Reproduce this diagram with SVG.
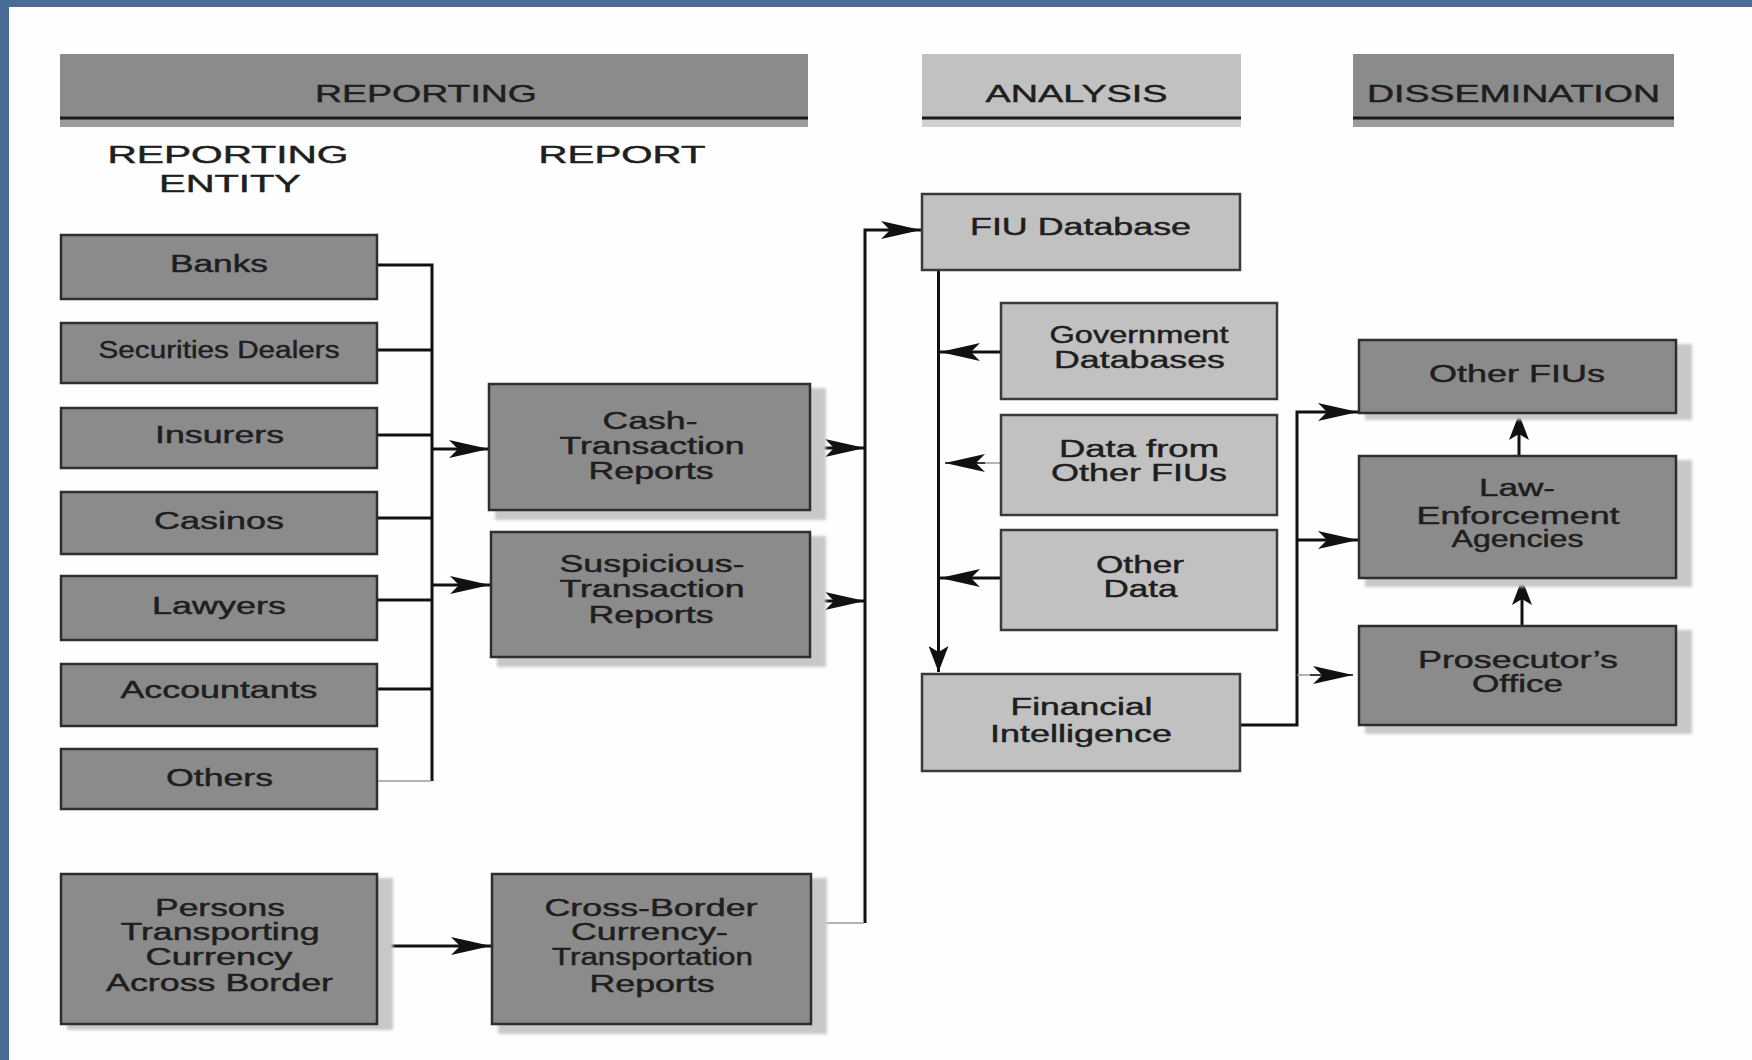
<svg xmlns="http://www.w3.org/2000/svg" width="1752" height="1060" viewBox="0 0 1752 1060">
<style>
  text { font-family: "Liberation Sans", Arial, sans-serif; fill: #1e1e1e; stroke: #1e1e1e; stroke-width: 0.45; text-anchor: middle; }
  .hdr { font-size: 24px; }
  .sub { font-size: 23.5px; }
  .lbl { font-size: 23.5px; }
  .dark { fill: #8b8b8b; stroke: #2e2e2e; stroke-width: 2.5; }
  .light { fill: #c1c1c1; stroke: #3a3a3a; stroke-width: 2.5; }
  .shadow { fill: #c8c8c8; filter: url(#blur); }
  .ln { fill: none; stroke: #111; stroke-width: 3; }
  .thin { fill: none; stroke: #9a9a9a; stroke-width: 1.5; }
  .arr { marker-end: url(#ah); }
  .arrv { marker-end: url(#av); }
</style>
<defs>
  <filter id="blur" x="-10%" y="-10%" width="120%" height="120%"><feGaussianBlur stdDeviation="1.5"/></filter>
  <marker id="ah" markerUnits="userSpaceOnUse" markerWidth="40" markerHeight="18" refX="40" refY="9" orient="auto" viewBox="0 0 40 18">
    <path d="M0,0 L40,9 L0,18 L9,9 Z" fill="#111"/>
  </marker>
  <marker id="av" markerUnits="userSpaceOnUse" markerWidth="26" markerHeight="20" refX="26" refY="10" orient="auto" viewBox="0 0 26 20">
    <path d="M0,0 L26,10 L0,20 L6,10 Z" fill="#111"/>
  </marker>
</defs>

<rect x="0" y="0" width="1752" height="1060" fill="#4a6d98"/>
<rect x="9" y="7" width="1743" height="1053" fill="#fefefe"/>

<g id="header-reporting">
  <rect x="60" y="54" width="748" height="73" fill="#8b8b8b"/>
  <rect x="60" y="119.5" width="748" height="7.5" fill="#9c9c9c"/>
  <rect x="60" y="116.5" width="748" height="3" fill="#1a1a1a"/>
  <text class="hdr" x="426" y="102" textLength="222" lengthAdjust="spacingAndGlyphs">REPORTING</text>
</g>
<g id="header-analysis">
  <rect x="922" y="54" width="319" height="73" fill="#c1c1c1"/>
  <rect x="922" y="119.5" width="319" height="7.5" fill="#d0d0d0"/>
  <rect x="922" y="116.5" width="319" height="3" fill="#1a1a1a"/>
  <text class="hdr" x="1076.5" y="102" textLength="182" lengthAdjust="spacingAndGlyphs">ANALYSIS</text>
</g>
<g id="header-dissemination">
  <rect x="1353" y="54" width="321" height="73" fill="#8b8b8b"/>
  <rect x="1353" y="119.5" width="321" height="7.5" fill="#9c9c9c"/>
  <rect x="1353" y="116.5" width="321" height="3" fill="#1a1a1a"/>
  <text class="hdr" x="1513.5" y="102" textLength="293" lengthAdjust="spacingAndGlyphs">DISSEMINATION</text>
</g>
<g id="sub-reporting-entity">
  <text class="sub" x="228" y="162.5" textLength="241" lengthAdjust="spacingAndGlyphs">REPORTING</text>
  <text class="sub" x="230" y="191.5" textLength="142" lengthAdjust="spacingAndGlyphs">ENTITY</text>
</g>
<g id="sub-report">
  <text class="sub" x="622" y="162.5" textLength="167" lengthAdjust="spacingAndGlyphs">REPORT</text>
</g>

<g id="connectors">
  <path class="ln" d="M377,265 H432 V781"/>
  <path class="ln" d="M377,350 H432 M377,435 H432 M377,518 H432 M377,600 H432 M377,689 H432"/>
  <path class="thin" d="M377,781 H431"/>
  <path class="ln arr" d="M432,449 H489"/>
  <path class="ln arr" d="M432,585 H490"/>
  <path class="ln arr" d="M810,448 H865"/>
  <path class="ln arr" d="M810,601 H865"/>
  <path class="ln arr" d="M865,923 V230 H921"/>
  <path class="thin" d="M811,923 H864"/>
  <path class="ln arr" d="M377,946 H491"/>
  <path class="ln arrv" d="M938.5,270 V672"/>
  <path class="ln arr" d="M1001,352 H940"/>
  <path class="thin" d="M1001,463 H970"/>
  <path class="ln arr" d="M985,463 H945" style="stroke-width:1.5"/>
  <path class="ln arr" d="M1001,578 H940"/>
  <path class="ln arr" d="M1240,725 H1297 V412 H1358"/>
  <path class="ln arr" d="M1297,540 H1358"/>
  <path class="thin" d="M1297,675 H1320"/>
  <path class="ln arr" d="M1310,675 H1353" style="stroke-width:1.5"/>
  <path class="ln arrv" d="M1519,456 V414"/>
  <path class="ln arrv" d="M1522,626 V579"/>
</g>

<g id="banks"><rect class="dark" x="61" y="235" width="316" height="64"/><text class="lbl" x="219" y="272" textLength="98" lengthAdjust="spacingAndGlyphs">Banks</text></g>
<g id="securities-dealers"><rect class="dark" x="61" y="323" width="316" height="60"/><text class="lbl" x="219" y="358" textLength="241" lengthAdjust="spacingAndGlyphs">Securities Dealers</text></g>
<g id="insurers"><rect class="dark" x="61" y="408" width="316" height="60"/><text class="lbl" x="219.5" y="443" textLength="129" lengthAdjust="spacingAndGlyphs">Insurers</text></g>
<g id="casinos"><rect class="dark" x="61" y="492" width="316" height="62"/><text class="lbl" x="219" y="528.5" textLength="130" lengthAdjust="spacingAndGlyphs">Casinos</text></g>
<g id="lawyers"><rect class="dark" x="61" y="576" width="316" height="64"/><text class="lbl" x="219" y="613.5" textLength="134" lengthAdjust="spacingAndGlyphs">Lawyers</text></g>
<g id="accountants"><rect class="dark" x="61" y="664" width="316" height="62"/><text class="lbl" x="219" y="697.5" textLength="197" lengthAdjust="spacingAndGlyphs">Accountants</text></g>
<g id="others"><rect class="dark" x="61" y="749" width="316" height="60"/><text class="lbl" x="219.5" y="786" textLength="107" lengthAdjust="spacingAndGlyphs">Others</text></g>

<g id="persons-transporting">
  <rect class="shadow" x="67" y="878" width="326" height="152"/>
  <rect class="dark" x="61" y="874" width="316" height="150"/>
  <text class="lbl" x="220" y="916" textLength="130" lengthAdjust="spacingAndGlyphs">Persons</text>
  <text class="lbl" x="220" y="939.5" textLength="199" lengthAdjust="spacingAndGlyphs">Transporting</text>
  <text class="lbl" x="219" y="965" textLength="147" lengthAdjust="spacingAndGlyphs">Currency</text>
  <text class="lbl" x="219.5" y="991" textLength="227" lengthAdjust="spacingAndGlyphs">Across Border</text>
</g>

<g id="cash-transaction-reports">
  <rect class="shadow" x="495" y="388" width="331" height="132"/>
  <rect class="dark" x="489" y="384" width="321" height="126"/>
  <text class="lbl" x="650" y="429" textLength="95" lengthAdjust="spacingAndGlyphs">Cash-</text>
  <text class="lbl" x="652" y="453.6" textLength="185" lengthAdjust="spacingAndGlyphs">Transaction</text>
  <text class="lbl" x="651" y="478.5" textLength="125" lengthAdjust="spacingAndGlyphs">Reports</text>
</g>
<g id="suspicious-transaction-reports">
  <rect class="shadow" x="497" y="536" width="329" height="131"/>
  <rect class="dark" x="491" y="532" width="319" height="125"/>
  <text class="lbl" x="652" y="572" textLength="185" lengthAdjust="spacingAndGlyphs">Suspicious-</text>
  <text class="lbl" x="652" y="597" textLength="185" lengthAdjust="spacingAndGlyphs">Transaction</text>
  <text class="lbl" x="651" y="623" textLength="125" lengthAdjust="spacingAndGlyphs">Reports</text>
</g>
<g id="cross-border-reports">
  <rect class="shadow" x="498" y="878" width="329" height="156"/>
  <rect class="dark" x="492" y="874" width="319" height="150"/>
  <text class="lbl" x="651" y="916" textLength="213" lengthAdjust="spacingAndGlyphs">Cross-Border</text>
  <text class="lbl" x="649.5" y="940" textLength="157" lengthAdjust="spacingAndGlyphs">Currency-</text>
  <text class="lbl" x="652.5" y="965" textLength="201" lengthAdjust="spacingAndGlyphs">Transportation</text>
  <text class="lbl" x="652" y="991.5" textLength="125" lengthAdjust="spacingAndGlyphs">Reports</text>
</g>

<g id="fiu-database"><rect class="light" x="922" y="194" width="318" height="76"/><text class="lbl" x="1080.5" y="235" textLength="221" lengthAdjust="spacingAndGlyphs">FIU Database</text></g>
<g id="government-databases">
  <rect class="light" x="1001" y="303" width="276" height="96"/>
  <text class="lbl" x="1139" y="342.7" textLength="179" lengthAdjust="spacingAndGlyphs">Government</text>
  <text class="lbl" x="1139.5" y="367.6" textLength="171" lengthAdjust="spacingAndGlyphs">Databases</text>
</g>
<g id="data-other-fius">
  <rect class="light" x="1001" y="415" width="276" height="100"/>
  <text class="lbl" x="1139" y="457" textLength="160" lengthAdjust="spacingAndGlyphs">Data from</text>
  <text class="lbl" x="1139" y="481" textLength="176" lengthAdjust="spacingAndGlyphs">Other FIUs</text>
</g>
<g id="other-data">
  <rect class="light" x="1001" y="530" width="276" height="100"/>
  <text class="lbl" x="1140" y="573" textLength="88" lengthAdjust="spacingAndGlyphs">Other</text>
  <text class="lbl" x="1140.5" y="596.7" textLength="74" lengthAdjust="spacingAndGlyphs">Data</text>
</g>
<g id="financial-intelligence">
  <rect class="light" x="922" y="674" width="318" height="97"/>
  <text class="lbl" x="1081.5" y="715" textLength="142" lengthAdjust="spacingAndGlyphs">Financial</text>
  <text class="lbl" x="1081" y="741.7" textLength="182" lengthAdjust="spacingAndGlyphs">Intelligence</text>
</g>

<g id="other-fius">
  <rect class="shadow" x="1365" y="344" width="327" height="76"/>
  <rect class="dark" x="1359" y="340" width="317" height="73"/>
  <text class="lbl" x="1517" y="382" textLength="176" lengthAdjust="spacingAndGlyphs">Other FIUs</text>
</g>
<g id="law-enforcement">
  <rect class="shadow" x="1365" y="460" width="327" height="127"/>
  <rect class="dark" x="1359" y="456" width="317" height="122"/>
  <text class="lbl" x="1517" y="496" textLength="76" lengthAdjust="spacingAndGlyphs">Law-</text>
  <text class="lbl" x="1518" y="523.6" textLength="203" lengthAdjust="spacingAndGlyphs">Enforcement</text>
  <text class="lbl" x="1517.5" y="547.4" textLength="132" lengthAdjust="spacingAndGlyphs">Agencies</text>
</g>
<g id="prosecutors-office">
  <rect class="shadow" x="1365" y="630" width="327" height="104"/>
  <rect class="dark" x="1359" y="626" width="317" height="99"/>
  <text class="lbl" x="1518" y="668" textLength="200" lengthAdjust="spacingAndGlyphs">Prosecutor’s</text>
  <text class="lbl" x="1517.5" y="691.5" textLength="91" lengthAdjust="spacingAndGlyphs">Office</text>
</g>
</svg>
